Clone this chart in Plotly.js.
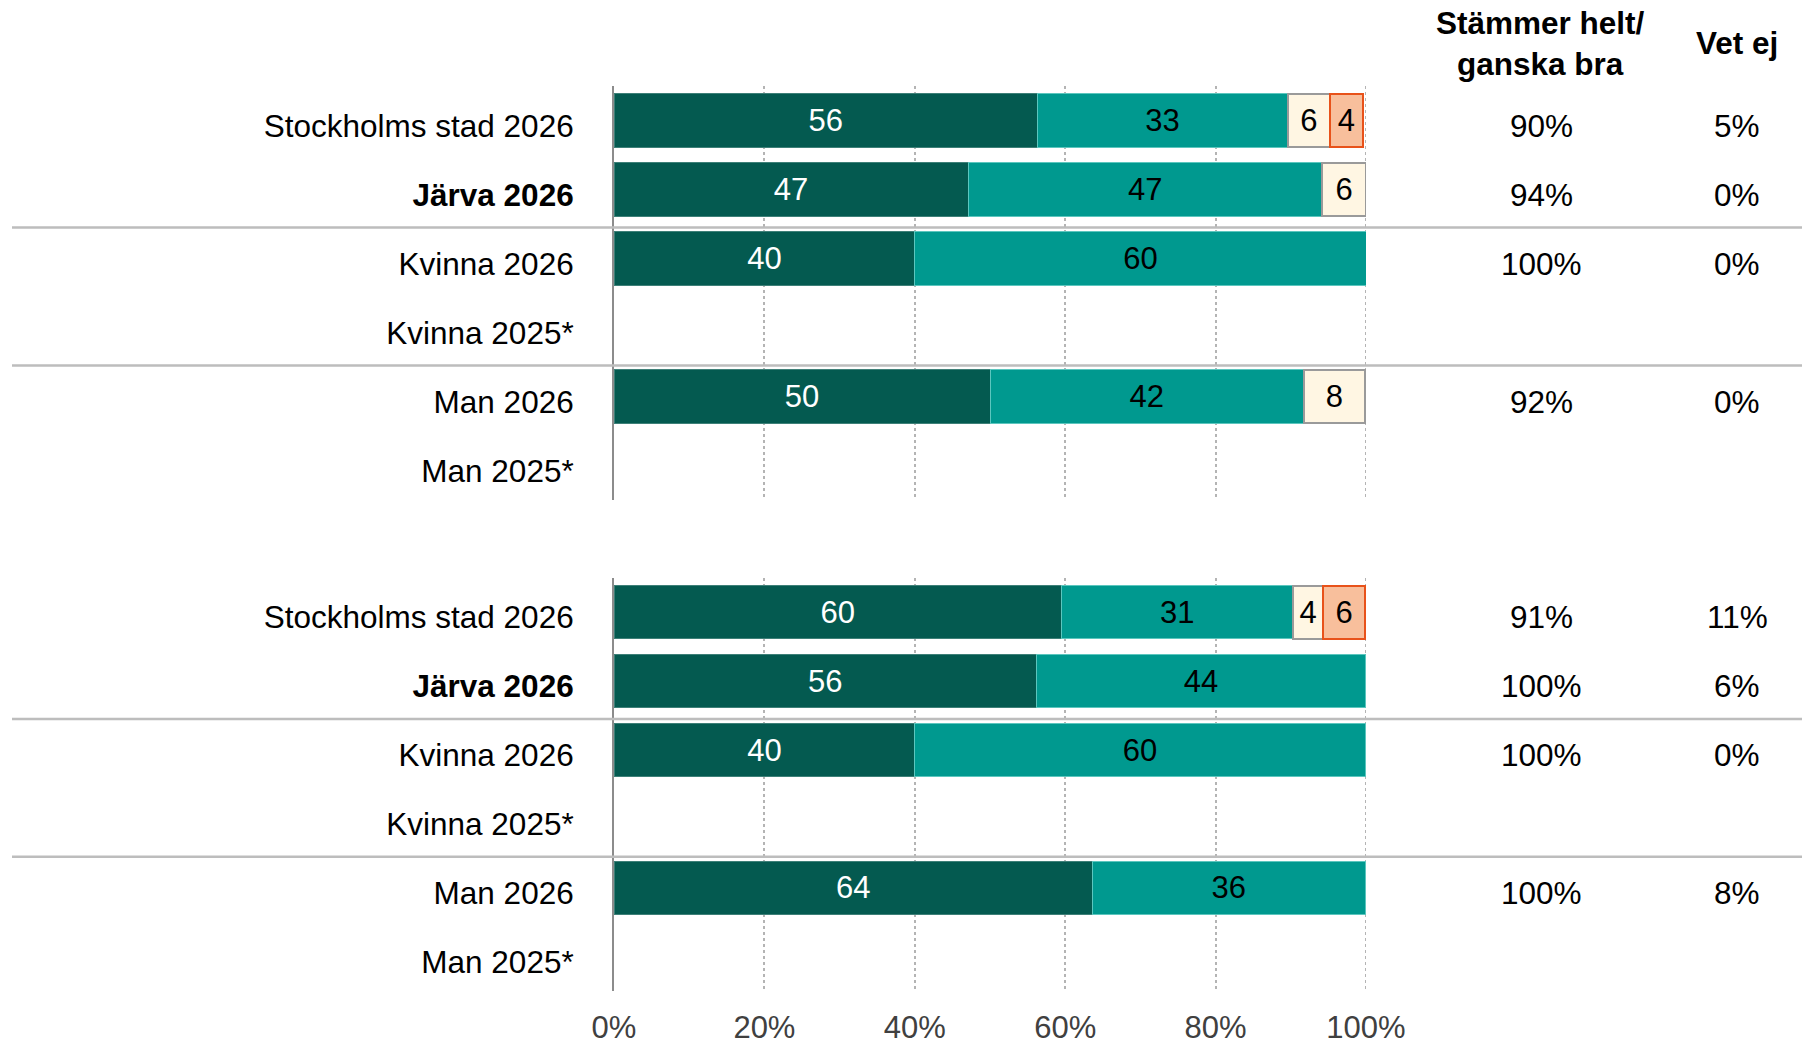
<!DOCTYPE html>
<html>
<head>
<meta charset="utf-8">
<script src="https://cdn.plot.ly/plotly-3.0.1.min.js"></script>
<style>html,body{margin:0;padding:0;background:#fff;}#chart{width:1819px;height:1047px;}</style>
</head>
<body>
<div id="chart"></div>
<script>
// ---- Data ----
const categories = ['Stockholms stad 2026', '<b>Järva 2026</b>', 'Kvinna 2026', 'Kvinna 2025*', 'Man 2026', 'Man 2025*'];

// Panel 1 (top)
const p1Helt   = [56.3, 47.1, 40, null, 50.0, null];
const p1Ganska = [33.3, 47.1, 60, null, 41.7, null];
const p1Ganska2 = [5.6, 5.8, null, null, 8.2, null];
const p1Inte   = [4.4, null, null, null, null, null];
const p1Agree  = ['90%', '94%', '100%', '', '92%', ''];
const p1VetEj  = ['5%', '0%', '0%', '', '0%', ''];

// Panel 2 (bottom)
const p2Helt   = [59.5, 56.2, 40, null, 63.6, null];
const p2Ganska = [30.8, 43.7, 59.9, null, 36.3, null];
const p2Ganska2 = [4.0, null, null, null, null, null];
const p2Inte   = [5.6, null, null, null, null, null];
const p2Agree  = ['91%', '100%', '100%', '', '100%', ''];
const p2VetEj  = ['11%', '6%', '0%', '', '8%', ''];

const xTickVals = [0, 20, 40, 60, 80, 100];
const xTickText = ['0%', '20%', '40%', '60%', '80%', '100%'];
const headerAgree = 'Stämmer helt/<br>ganska bra';
const headerVetEj = 'Vet ej';

// ---- Styling ----
const FONT = 'Liberation Sans, Arial, sans-serif';
const FS = 31;
const LFS = 31.5;
const GRID = '#B4B4B4';
const series = [
  {fill: '#045A50', line: '#3E8078', width: 1, textColor: '#FFFFFF'},
  {fill: '#00998F', line: '#5CC6BE', width: 1, textColor: '#000000'},
  {fill: '#FFF6E3', line: '#9A9A9A', width: 2, textColor: '#000000'},
  {fill: '#F8BF9C', line: '#E8521A', width: 2, textColor: '#000000'}
];

function lbl(arr) { return arr.map(v => v == null ? '' : String(Math.round(v))); }

function makeTraces(dataSets, xa, ya) {
  return dataSets.map((d, i) => ({
    type: 'bar', orientation: 'h',
    x: d, y: categories, xaxis: xa, yaxis: ya,
    text: lbl(d), textposition: 'inside', insidetextanchor: 'middle',
    textfont: {family: FONT, size: FS, color: series[i].textColor},
    constraintext: 'none',
    marker: {color: series[i].fill, line: {color: series[i].line, width: series[i].width}},
    hoverinfo: 'skip', showlegend: false, cliponaxis: false
  }));
}

const traces = [].concat(
  makeTraces([p1Helt, p1Ganska, p1Ganska2, p1Inte], 'x', 'y'),
  makeTraces([p2Helt, p2Ganska, p2Ganska2, p2Inte], 'x2', 'y2')
);

const W = 1819, H = 1047;
const xDom = [614 / W, 1366 / W];
const yDom1 = [1 - 500 / H, 1 - 86 / H];
const yDom2 = [1 - 991 / H, 1 - 578 / H];

function xAxis(anchor, showLabels) {
  return {
    domain: xDom, anchor: anchor, range: [0, 100], fixedrange: true,
    tickmode: 'array', tickvals: xTickVals, ticktext: xTickText,
    showticklabels: showLabels, ticks: '', ticklabelstandoff: 15,
    tickfont: {family: FONT, size: FS, color: '#404040'},
    showgrid: true, gridcolor: GRID, gridwidth: 2, griddash: 'dot',
    zeroline: false, showline: false
  };
}
function yAxis(anchor, dom) {
  return {
    domain: dom, anchor: anchor, range: [5.5, -0.5], fixedrange: true,
    type: 'category', categoryorder: 'array', categoryarray: categories,
    ticks: '', ticklabelstandoff: 32, ticklabelshift: -5,
    tickfont: {family: FONT, size: LFS, color: '#000000'},
    showgrid: false, zeroline: false,
    showline: true, linecolor: '#8C8C8C', linewidth: 2
  };
}

const annotations = [];
function addCols(agree, vet, yref) {
  categories.forEach((c, i) => {
    if (agree[i]) annotations.push({xref: 'paper', yref: yref, x: 1541 / W, y: i, yshift: -5, text: agree[i], showarrow: false,
      xanchor: 'center', yanchor: 'middle', font: {family: FONT, size: LFS, color: '#000'}});
    if (vet[i]) annotations.push({xref: 'paper', yref: yref, x: 1737 / W, y: i, yshift: -5, text: vet[i], showarrow: false,
      xanchor: 'center', yanchor: 'middle', font: {family: FONT, size: LFS, color: '#000'}});
  });
}
addCols(p1Agree, p1VetEj, 'y');
addCols(p2Agree, p2VetEj, 'y2');
annotations.push({xref: 'paper', yref: 'paper', x: 1540 / W, y: 1 - 44 / H, text: '<b>' + headerAgree + '</b>', showarrow: false,
  xanchor: 'center', yanchor: 'middle', align: 'center', font: {family: FONT, size: LFS, color: '#000'}});
annotations.push({xref: 'paper', yref: 'paper', x: 1737 / W, y: 1 - 43 / H, text: '<b>' + headerVetEj + '</b>', showarrow: false,
  xanchor: 'center', yanchor: 'middle', font: {family: FONT, size: LFS, color: '#000'}});

const shapes = [];
// gridline at the 100% edge (Plotly clips gridlines at the range end)
[['x', 'y'], ['x2', 'y2']].forEach(([xr, yr]) => {
  shapes.push({type: 'line', xref: xr, yref: yr, x0: 100, x1: 100, y0: -0.5, y1: 5.5,
    line: {color: GRID, width: 2, dash: 'dot'}, layer: 'below'});
});
[['y', 1.55], ['y', 3.55], ['y2', 1.55], ['y2', 3.55]].forEach(([yr, v]) => {
  shapes.push({type: 'line', xref: 'paper', yref: yr, x0: 12 / W, x1: 1802 / W, y0: v, y1: v,
    line: {color: '#BDBDBD', width: 2.5}, layer: 'above'});
});

const layout = {
  width: W, height: H, autosize: false,
  margin: {l: 0, r: 0, t: 0, b: 0, pad: 0},
  paper_bgcolor: '#FFFFFF', plot_bgcolor: 'rgba(0,0,0,0)',
  barmode: 'stack', bargap: 0.23,
  font: {family: FONT, size: FS, color: '#000'},
  xaxis: xAxis('y', false), yaxis: yAxis('x', yDom1),
  xaxis2: xAxis('y2', true), yaxis2: yAxis('x2', yDom2),
  annotations: annotations, shapes: shapes, showlegend: false
};

Plotly.newPlot('chart', traces, layout, {displayModeBar: false, staticPlot: true});
</script>
</body>
</html>
